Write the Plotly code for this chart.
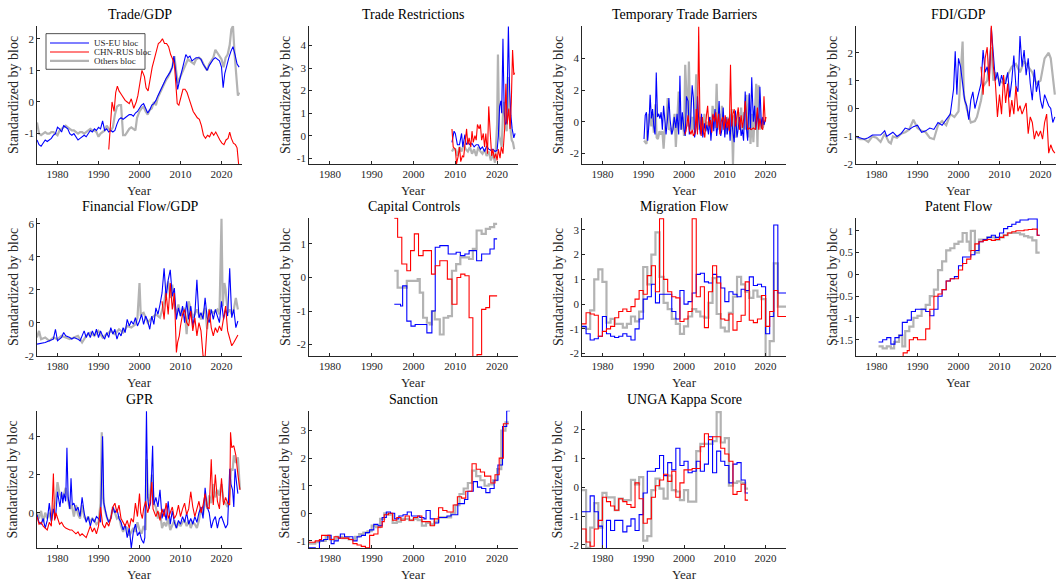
import numpy as np
import plotly.graph_objects as go

BLUE = "#0000FF"
RED = "#FF0000"
GRAY = "#B3B3B3"
INK = "#262626"
FONT = "Liberation Serif, Times New Roman, serif"

W, H = 1056, 586

# ---------------- Trade/GDP ----------------
trade_gdp_useu = [(1975,-1.2),(1975.5,-1.35),(1976,-1.4),(1976.5,-1.3),(1977,-1.2),(1977.5,-1.25),(1978,-1.2),(1978.5,-1.15),(1979,-1.05),(1979.5,-1.0),(1980,-0.8),(1980.5,-0.85),(1981,-0.95),(1981.5,-0.75),(1982,-0.8),(1982.5,-0.85),(1983,-1.0),(1983.5,-1.05),(1984,-1.0),(1984.5,-1.1),(1985,-1.2),(1985.5,-1.15),(1986,-1.1),(1986.5,-1.05),(1987,-1.1),(1987.5,-1.0),(1988,-0.9),(1988.5,-0.95),(1989,-0.85),(1989.5,-0.9),(1990,-0.8),(1990.5,-0.85),(1991,-0.6),(1991.5,-0.9),(1992,-0.85),(1992.5,-0.95),(1993,-0.9),(1993.5,-0.95),(1994,-0.9),(1994.5,-0.7),(1995,-0.55),(1995.5,-0.5),(1996,-0.55),(1996.5,-0.5),(1997,-0.45),(1997.5,-0.4),(1998,-0.4),(1998.5,-0.45),(1999,-0.35),(1999.5,-0.3),(2000,-0.2),(2000.5,-0.1),(2001,-0.05),(2001.5,-0.2),(2002,-0.35),(2002.5,-0.25),(2003,-0.1),(2003.5,-0.05),(2004,0.05),(2004.5,0.2),(2005,0.35),(2005.5,0.5),(2006,0.6),(2006.5,0.75),(2007,0.85),(2007.5,0.95),(2008,1.1),(2008.4,1.45),(2008.8,1.0),(2009.3,0.4),(2009.8,0.7),(2010.3,0.95),(2010.8,1.25),(2011.3,1.5),(2011.8,1.4),(2012.3,1.45),(2012.8,1.3),(2013.3,1.35),(2013.8,1.4),(2014.5,1.4),(2015,1.35),(2015.5,1.2),(2016,1.1),(2016.5,1.0),(2017,1.15),(2017.5,1.25),(2018,1.35),(2018.5,1.4),(2019,1.35),(2019.5,1.3),(2020,1.1),(2020.4,0.45),(2020.8,0.9),(2021.3,1.2),(2021.8,1.4),(2022.3,1.6),(2022.8,1.75),(2023.3,1.5),(2023.8,1.2),(2024.3,1.1)]
trade_gdp_chnrus = [(1992.5,-1.5),(1993,-0.5),(1993.3,0.0),(1993.8,-0.3),(1994.2,0.3),(1994.6,0.5),(1995,0.35),(1995.5,0.25),(1996,0.15),(1996.5,0.05),(1997,0.0),(1997.5,-0.05),(1998,0.1),(1998.6,-0.2),(1999.2,0.0),(1999.6,0.2),(2000.1,0.6),(2000.6,1.0),(2001.2,0.8),(2001.6,0.45),(2002.1,0.35),(2002.6,0.8),(2003.1,1.1),(2003.6,1.35),(2004.1,1.6),(2004.6,1.85),(2005.1,1.9),(2005.6,2.0),(2006.1,1.85),(2006.6,1.85),(2007.1,1.75),(2007.6,1.5),(2008.1,1.35),(2008.5,1.2),(2008.9,0.5),(2009.2,-0.05),(2009.6,-0.1),(2010.1,0.2),(2010.6,0.4),(2011.1,0.4),(2011.6,0.3),(2012.1,0.1),(2012.6,-0.1),(2013.1,-0.3),(2013.6,-0.4),(2014.1,-0.5),(2014.6,-0.55),(2015.1,-0.75),(2015.6,-1.05),(2016.1,-1.15),(2016.6,-1.05),(2017.1,-1.1),(2017.6,-0.95),(2018.1,-1.05),(2018.6,-0.95),(2019.1,-1.1),(2019.6,-1.2),(2020.1,-1.3),(2020.6,-1.35),(2021.1,-1.2),(2021.6,-1.15),(2022.0,-0.95),(2022.4,-1.15),(2022.9,-1.3),(2023.4,-1.35),(2023.8,-1.45),(2024.2,-2.0)]
trade_gdp_others = [(1975,-0.65),(1975.5,-1.0),(1976,-1.05),(1976.5,-1.0),(1977,-0.95),(1977.5,-1.0),(1978,-1.0),(1978.5,-0.95),(1979,-0.95),(1979.5,-1.0),(1980,-1.05),(1980.5,-0.9),(1981,-0.85),(1981.5,-0.8),(1982,-0.75),(1982.5,-0.8),(1983,-0.85),(1983.5,-0.9),(1984,-0.9),(1984.5,-0.95),(1985,-1.0),(1985.5,-0.95),(1986,-0.95),(1986.5,-1.0),(1987,-0.95),(1987.5,-0.9),(1988,-0.85),(1988.5,-0.9),(1989,-0.9),(1989.5,-0.95),(1990,-1.1),(1990.5,-1.0),(1991,-0.95),(1991.5,-0.9),(1992,-0.75),(1992.5,-0.85),(1993,-0.9),(1993.5,-0.8),(1994,-0.4),(1994.5,-0.15),(1995,-0.1),(1995.5,-0.1),(1996,-1.05),(1996.5,-1.05),(1997,-0.95),(1997.5,-0.85),(1998,-0.8),(1998.5,-0.85),(1999,-0.9),(1999.4,-0.5),(2000,-0.3),(2000.5,-0.2),(2001,-0.15),(2001.5,-0.3),(2002,-0.4),(2002.5,-0.25),(2003,-0.2),(2003.5,0.0),(2004,-0.1),(2004.5,0.15),(2005,0.3),(2005.5,0.45),(2006,0.55),(2006.5,0.7),(2007,0.8),(2007.5,0.95),(2008,1.1),(2008.5,1.45),(2008.9,1.0),(2009.3,0.6),(2009.8,0.75),(2010.3,0.9),(2010.8,1.1),(2011.3,1.2),(2011.8,1.35),(2012.3,1.3),(2012.8,1.25),(2013.3,1.2),(2013.8,1.35),(2014.5,1.4),(2015,1.35),(2015.5,1.2),(2016,1.1),(2016.5,1.0),(2017,1.2),(2017.5,1.3),(2018,1.4),(2018.5,1.65),(2019,1.55),(2019.5,1.45),(2020,1.35),(2020.5,1.1),(2021,1.4),(2021.5,1.5),(2022,1.8),(2022.4,2.3),(2022.8,2.4),(2023.2,1.5),(2023.6,0.7),(2024,0.2),(2024.3,0.3)]

# ---------------- Trade Restrictions ----------------
trade_restr_useu = [(2009.2,-0.3),(2009.7,0.2),(2010,0.1),(2010.5,-0.4),(2011,-0.4),(2011.5,0.1),(2011.8,-0.5),(2012.3,0.05),(2012.6,-0.4),(2013,-0.3),(2013.5,-0.4),(2014,-0.35),(2014.5,-0.5),(2015,-0.4),(2015.5,-0.4),(2016,-0.6),(2016.5,-0.5),(2017,-0.7),(2017.5,-0.45),(2018,-0.6),(2018.5,-0.65),(2019,-0.6),(2019.5,-0.7),(2020,-0.65),(2020.3,0.0),(2020.6,1.3),(2020.9,1.55),(2021.1,1.0),(2021.4,4.3),(2021.7,1.0),(2022.0,0.5),(2022.3,0.6),(2022.7,4.85),(2023.0,2.0),(2023.3,0.9),(2023.6,0.3),(2024.0,-0.1),(2024.3,0.1)]
trade_restr_chnrus = [(2009.2,0.3),(2009.5,-0.5),(2010,-0.6),(2010.3,-1.25),(2010.7,-0.9),(2011,-0.5),(2011.3,-1.15),(2011.7,-0.9),(2012,-0.95),(2012.3,-0.5),(2012.7,0.3),(2013,-0.4),(2013.3,-0.1),(2013.7,-0.5),(2014,0.2),(2014.3,-0.3),(2014.7,0.0),(2015,-0.2),(2015.3,0.5),(2015.7,0.3),(2016,0.5),(2016.3,-0.2),(2016.7,0.1),(2017,-0.5),(2017.3,0.1),(2017.7,-0.8),(2018,1.3),(2018.3,0.3),(2018.7,-0.9),(2019,-0.6),(2019.3,-1.0),(2019.7,-0.8),(2020,-1.1),(2020.3,-0.6),(2020.7,-1.0),(2021,-0.5),(2021.4,-0.8),(2021.8,0.3),(2022.1,2.3),(2022.4,0.5),(2022.8,1.2),(2023.1,0.3),(2023.4,1.5),(2023.7,3.8),(2024.0,2.7),(2024.2,2.8)]
trade_restr_others = [(2009.2,-0.7),(2009.5,-0.6),(2010,-0.6),(2010.5,-0.9),(2011,-0.5),(2011.5,-0.7),(2012,-0.4),(2012.5,-0.6),(2013,-0.7),(2013.5,-0.5),(2014,-0.8),(2014.5,-0.6),(2015,-0.9),(2015.5,-0.5),(2016,-0.7),(2016.5,-0.8),(2017,-0.6),(2017.5,-0.9),(2018,-0.7),(2018.5,-1.1),(2019,-0.8),(2019.5,-1.2),(2020.0,0.5),(2020.2,3.6),(2020.5,0.0),(2020.8,-0.3),(2021.1,-0.5),(2021.4,1.0),(2021.7,1.5),(2022.0,0.5),(2022.3,0.2),(2022.6,2.6),(2022.9,1.0),(2023.2,0.3),(2023.5,-0.2),(2023.8,-0.3),(2024.1,-0.6)]

# ---------------- Temporary Trade Barriers ----------------
ttb_useu = [(1990.2,-1.1),(1990.5,0.4),(1990.8,0.6),(1991.1,-1.2),(1991.4,-0.2),(1991.7,1.7),(1992,0.2),(1992.3,0.8),(1992.6,-0.3),(1992.9,-0.8),(1993.2,3.1),(1993.5,0.3),(1993.8,0.5),(1994.1,0.2),(1994.4,0.6),(1994.7,-0.5),(1995,1.0),(1995.3,0.2),(1995.6,-0.8),(1996,0.3),(1996.3,1.5),(1996.6,0.1),(1997,-0.8),(1997.3,-0.5),(1997.6,0.3),(1998,-0.4),(1998.3,0.5),(1998.7,-0.8),(1999,2.9),(1999.3,-0.5),(1999.6,0.6),(2000,-0.5),(2000.3,-0.9),(2000.6,1.6),(2001,1.3),(2001.3,-0.8),(2001.6,0.0),(2002,2.3),(2002.3,1.5),(2002.6,-1.0),(2003,-0.3),(2003.3,1.6),(2003.6,0.2),(2004,-0.8),(2004.3,0.5),(2004.6,-1.0),(2005,-0.1),(2005.3,-0.6),(2005.6,-0.2),(2006,-0.8),(2006.3,0.3),(2006.6,-1.2),(2007,0.4),(2007.3,-0.6),(2007.6,0.8),(2008,-0.9),(2008.3,-0.2),(2008.6,1.3),(2009,-0.9),(2009.3,-0.5),(2009.6,0.9),(2010,-1.0),(2010.3,0.3),(2010.6,-0.8),(2011,0.2),(2011.3,-1.2),(2011.6,0.5),(2012,-0.7),(2012.3,-1.3),(2012.6,0.7),(2013,-1.0),(2013.3,-0.4),(2013.6,0.3),(2014,-0.9),(2014.3,-0.5),(2014.6,-1.2),(2015,1.9),(2015.3,-0.4),(2015.6,-1.2),(2016,1.8),(2016.3,-0.5),(2016.6,2.8),(2017,0.0),(2017.3,1.0),(2017.6,-0.5),(2018,0.6),(2018.3,-0.3),(2018.6,2.2),(2019,-0.4),(2019.3,0.3),(2019.6,-0.2),(2020,0.2)]
ttb_chnrus = [(2000.2,-0.8),(2000.5,-0.6),(2001,0.4),(2001.3,-0.5),(2001.7,-0.8),(2002,-0.5),(2002.3,-0.9),(2002.7,-0.7),(2003,0.8),(2003.3,-0.8),(2003.6,6.0),(2003.9,0.2),(2004.2,-0.9),(2004.5,0.3),(2004.8,-0.6),(2005.1,-1.0),(2005.5,0.4),(2005.8,1.0),(2006.1,-0.3),(2006.5,0.1),(2006.8,-0.7),(2007.1,0.5),(2007.5,0.0),(2007.8,0.6),(2008.1,-0.4),(2008.5,0.5),(2008.8,-0.8),(2009.1,0.0),(2009.5,0.3),(2009.8,-0.5),(2010.1,0.4),(2010.5,-0.4),(2010.8,0.2),(2011.1,-0.6),(2011.4,3.6),(2011.7,-0.3),(2012.0,0.5),(2012.3,0.8),(2012.6,-0.3),(2013.0,0.5),(2013.3,0.9),(2013.6,-0.5),(2014.0,0.4),(2014.3,-0.4),(2014.7,0.3),(2015.0,1.3),(2015.3,0.5),(2015.6,-0.5),(2016.0,-0.4),(2016.5,-0.5),(2017.0,-0.4),(2017.5,-0.5),(2018.0,0.9),(2018.3,-0.5),(2018.6,0.2),(2019.0,-0.4),(2019.3,-0.5),(2019.6,1.6),(2019.9,0.0),(2020.1,0.3)]
ttb_others = [(1990.2,-1.2),(1990.5,-1.3),(1990.8,-1.4),(1991.1,-0.5),(1991.4,0.5),(1991.7,0.2),(1992,-0.3),(1992.3,0.5),(1992.6,-0.7),(1993,1.1),(1993.3,-1.0),(1993.6,-1.1),(1994,-0.6),(1994.3,-0.8),(1994.7,-0.6),(1995,-1.7),(1995.3,-0.5),(1995.7,0.0),(1996,1.5),(1996.3,-0.5),(1996.7,-0.4),(1997,-0.8),(1997.3,-0.2),(1997.7,0.5),(1998,-1.6),(1998.3,-0.2),(1998.7,1.9),(1999,0.2),(1999.3,-0.5),(1999.7,0.3),(2000,-0.9),(2000.3,3.6),(2000.6,0.8),(2000.9,-0.3),(2001.2,3.8),(2001.5,0.5),(2001.8,-0.5),(2002.1,0.3),(2002.4,-0.5),(2002.7,0.8),(2003.0,3.0),(2003.3,0.2),(2003.6,-0.5),(2004,0.3),(2004.3,-0.3),(2004.7,-0.8),(2005,0.5),(2005.3,-0.6),(2005.7,0.0),(2006,-0.5),(2006.3,0.3),(2006.7,-0.6),(2007,1.0),(2007.3,0.5),(2007.7,-0.4),(2008,2.4),(2008.3,-0.5),(2008.7,0.5),(2009,-0.6),(2009.3,1.0),(2009.7,-0.5),(2010,0.2),(2010.3,-0.8),(2010.7,0.3),(2011,-0.5),(2011.3,-0.2),(2011.7,0.8),(2012.0,-2.7),(2012.3,0.4),(2012.6,-1.0),(2013,0.0),(2013.3,0.6),(2013.7,-0.5),(2014,0.9),(2014.3,-0.6),(2014.7,0.6),(2015,-0.5),(2015.3,1.7),(2015.7,-1.0),(2016,1.7),(2016.3,-1.4),(2016.7,0.5),(2017,-1.3),(2017.3,0.2),(2017.7,2.4),(2018,-1.6),(2018.3,2.3),(2018.7,-0.5),(2019,0.2),(2019.3,-0.4),(2019.7,0.0),(2020,0.1)]

# ---------------- FDI/GDP ----------------
fdi_useu = [(1975,-1.0),(1976,-1.05),(1977,-1.1),(1978,-1.05),(1979,-0.95),(1980,-0.95),(1981,-0.95),(1982,-0.8),(1982.5,-1.0),(1983,-0.95),(1984,-0.85),(1985,-1.0),(1986,-0.9),(1987,-0.7),(1988,-0.75),(1989,-0.65),(1990,-0.6),(1991,-0.85),(1992,-0.8),(1993,-0.7),(1994,-0.75),(1995,-0.5),(1996,-0.6),(1997,-0.4),(1998,-0.2),(1998.8,0.7),(1999.2,2.05),(1999.6,0.5),(2000,1.8),(2000.5,1.5),(2001,0.8),(2001.5,0.3),(2002,0.1),(2002.5,-0.4),(2003,0.3),(2003.5,0.6),(2004,0.0),(2004.5,0.3),(2005,0.6),(2005.5,0.9),(2006,2.1),(2006.5,1.3),(2007,1.5),(2007.5,1.0),(2008,2.9),(2008.5,1.8),(2009,1.0),(2009.5,1.3),(2010,0.8),(2010.5,1.2),(2011,0.9),(2011.5,0.9),(2012,1.3),(2012.5,0.4),(2013,1.0),(2013.5,1.9),(2014,0.8),(2014.5,0.6),(2015,2.6),(2015.5,1.5),(2016,2.1),(2016.5,1.2),(2017,1.8),(2017.5,0.9),(2018,0.3),(2018.5,1.4),(2019,0.6),(2019.5,1.0),(2020,0.3),(2020.5,0.0),(2021,0.5),(2021.5,0.3),(2022,0.1),(2022.5,0.0),(2023,-0.5),(2023.5,-0.3)]
fdi_chnrus = [(2005.5,1.5),(2006,0.5),(2006.5,1.8),(2007,2.2),(2007.5,0.8),(2008,3.0),(2008.5,1.5),(2009,0.9),(2009.5,-0.3),(2010,0.5),(2010.5,-0.2),(2011,1.2),(2011.5,0.2),(2012,0.9),(2012.5,-0.3),(2013,0.3),(2013.5,-0.2),(2014,0.8),(2014.5,-0.1),(2015,0.1),(2015.5,-0.2),(2016,0.0),(2016.5,0.2),(2017,-0.9),(2017.5,-0.3),(2018,-0.5),(2018.5,-1.1),(2019,-0.8),(2019.5,-1.0),(2020,-0.8),(2020.5,-1.1),(2021,-0.5),(2021.5,-0.2),(2022,-1.6),(2022.5,-1.3),(2023,-1.5),(2023.5,-1.6)]
fdi_others = [(1975,-1.0),(1976,-1.1),(1977,-1.1),(1978,-1.2),(1979,-1.0),(1980,-1.05),(1981,-1.2),(1982,-0.9),(1983,-1.2),(1983.5,-1.25),(1984,-1.0),(1985,-1.05),(1986,-0.9),(1987,-0.85),(1988,-0.75),(1989,-0.4),(1990,-0.7),(1991,-0.8),(1992,-0.85),(1993,-1.05),(1994,-1.1),(1994.5,-0.8),(1995,-0.6),(1996,-0.45),(1997,-0.6),(1998,-0.2),(1999,-0.3),(2000,-0.1),(2000.5,1.0),(2001,2.4),(2001.3,0.5),(2002,0.0),(2003,-0.5),(2004,-0.45),(2004.5,-0.3),(2005,0.0),(2005.5,0.3),(2006,0.8),(2007,1.0),(2008,2.2),(2008.5,1.0),(2009,1.3),(2010,1.0),(2011,0.9),(2012,1.2),(2013,1.5),(2014,1.6),(2015,1.3),(2016,1.7),(2017,1.5),(2018,1.3),(2019,0.9),(2020,1.0),(2021,1.8),(2022,2.0),(2022.5,1.8),(2023,1.2),(2023.5,0.5)]

# ---------------- Financial Flow/GDP ----------------
finflow_useu = [(1975,-1.3),(1976,-1.25),(1977,-1.2),(1978,-1.1),(1979,-1.0),(1979.5,-0.4),(1980,-1.1),(1981,-0.9),(1981.5,-0.6),(1982,-0.8),(1983,-0.9),(1983.5,-1.0),(1984,-0.9),(1985,-1.0),(1985.5,-1.1),(1986,-0.8),(1986.5,-0.5),(1987,-0.9),(1987.5,-0.6),(1988,-0.9),(1988.5,-0.5),(1989,-0.8),(1989.5,-0.4),(1990,-0.9),(1990.5,-0.5),(1991,-0.8),(1991.5,-1.0),(1992,-0.6),(1992.5,-0.9),(1993,-0.3),(1993.5,-0.7),(1994,-0.4),(1994.5,-1.0),(1995,-0.6),(1995.5,-0.8),(1996,-0.3),(1996.5,-0.6),(1997,0.2),(1997.5,-0.2),(1998,0.1),(1998.5,-0.1),(1999,0.3),(1999.5,-0.2),(2000,0.1),(2000.5,0.5),(2001,-0.1),(2001.5,0.4),(2002,0.1),(2002.5,-0.4),(2003,0.4),(2003.5,-0.1),(2004,0.9),(2004.5,0.5),(2005,1.1),(2005.5,1.8),(2006,3.3),(2006.5,1.5),(2007,2.6),(2007.5,3.2),(2008,1.6),(2008.5,2.1),(2009,0.2),(2009.5,0.9),(2010,0.4),(2010.5,1.0),(2011,0.0),(2011.5,1.3),(2012,0.2),(2012.5,1.0),(2013,-0.2),(2013.5,0.5),(2014,2.6),(2014.5,0.3),(2015,0.6),(2015.5,0.2),(2016,1.5),(2016.5,0.3),(2017,0.0),(2017.5,0.8),(2018,0.2),(2018.5,0.8),(2019,0.4),(2019.5,0.0),(2020,1.3),(2020.5,0.2),(2021,0.8),(2021.5,0.4),(2022,3.3),(2022.5,0.3),(2023,0.8),(2023.5,-0.3),(2024,0.1)]
finflow_chnrus = [(2005.5,1.3),(2006,0.2),(2006.5,1.8),(2007,0.5),(2007.5,2.4),(2008,0.8),(2008.5,1.8),(2009,-1.8),(2009.3,-1.2),(2009.7,-0.8),(2010,-0.2),(2010.5,0.5),(2011,0.8),(2011.5,0.0),(2012,-0.2),(2012.5,0.7),(2013,-0.5),(2013.5,0.3),(2014,-0.8),(2014.5,0.0),(2015,-0.5),(2015.5,-2.0),(2016,-2.1),(2016.5,-0.2),(2017,0.8),(2017.5,-0.3),(2018,-0.8),(2018.5,-0.3),(2019,-0.6),(2019.5,-0.2),(2020,-0.5),(2020.5,0.3),(2021,1.0),(2021.5,-0.5),(2022,-1.0),(2022.5,-1.4),(2023,-1.2),(2023.5,-1.0),(2024,-0.75)]
finflow_others = [(1975,-0.9),(1975.5,-0.5),(1976,-1.0),(1977,-0.9),(1978,-1.1),(1979,-0.9),(1980,-1.0),(1981,-0.8),(1982,-0.9),(1983,-1.0),(1984,-0.9),(1985,-0.8),(1986,-1.2),(1987,-0.8),(1988,-0.6),(1989,-0.8),(1990,-0.5),(1991,-0.9),(1992,-0.7),(1993,-0.5),(1994,-0.7),(1995,-0.4),(1996,-0.6),(1997,-0.2),(1998,-0.3),(1999,-0.1),(1999.5,0.3),(2000,2.4),(2000.3,0.5),(2001,0.6),(2002,0.0),(2003,0.3),(2004,0.5),(2005,0.3),(2006,1.2),(2006.5,2.0),(2007,2.5),(2007.5,1.5),(2008,2.3),(2008.5,1.0),(2009,0.5),(2009.5,1.1),(2010,0.4),(2011,0.9),(2011.5,-0.7),(2012,1.3),(2013,0.3),(2014,0.8),(2015,0.2),(2016,0.9),(2016.5,-0.4),(2017,0.8),(2018,0.6),(2019,0.8),(2019.5,0.5),(2020,6.3),(2020.3,1.0),(2020.7,2.4),(2021,2.0),(2021.5,0.6),(2022,0.8),(2022.5,0.5),(2023,0.8),(2023.5,1.5),(2024,0.8)]

# ---------------- Capital Controls (step series) ----------------
capctrl_useu = [(1995.4,-0.8),(1996.9,-0.85),(1997.4,-0.25),(1998.4,-1.3),(1999.4,-1.45),(2000.4,-1.4),(2001.4,-1.4),(2003.2,-1.65),(2004.4,-1.0),(2005.2,0.9),(2006.3,0.95),(2008.3,0.7),(2009.2,0.7),(2010.2,0.75),(2011.2,0.65),(2012.3,0.7),(2013.3,0.8),(2015.1,0.5),(2016.3,0.7),(2018.3,0.85),(2019.3,1.15),(2020.0,1.15)]
capctrl_chnrus = [(1995.4,1.77),(1996.2,1.2),(1997.2,0.4),(1998.4,0.2),(1999.3,0.8),(2000.2,1.3),(2001.2,0.65),(2002.3,0.8),(2004.3,0.1),(2005.2,0.35),(2006.3,0.5),(2008.1,-0.05),(2009.2,-0.8),(2010.4,0.0),(2011.3,0.1),(2012.3,0.05),(2013.3,-1.2),(2014.2,-2.4),(2015.2,-2.3),(2016.3,-0.95),(2017.3,-0.9),(2018.2,-0.55),(2019.3,-0.55),(2020.0,-0.55)]
capctrl_others = [(1995.4,0.2),(1996.2,-0.3),(1997.2,-0.3),(1998.4,-0.1),(1999.4,-0.1),(2000.2,-0.1),(2001.0,-0.05),(2001.5,-0.45),(2002.3,-1.2),(2003.2,-1.35),(2003.9,-1.4),(2004.4,-1.0),(2005.1,-1.25),(2006.3,-1.7),(2007.2,-1.2),(2008.3,-1.15),(2009.2,0.2),(2010.2,0.4),(2011.2,0.6),(2012.3,0.6),(2013.3,0.55),(2014.2,0.85),(2015.1,1.4),(2016.3,1.3),(2017.3,1.45),(2018.3,1.5),(2019.3,1.6),(2020.0,1.6)]

# ---------------- Migration Flow (annual steps from 1975) ----------------
migration_start = 1975
migration_useu = [-0.9,-1.2,-1.45,-1.4,-1.3,-0.5,-1.2,-1.3,-1.35,-1.3,-1.2,-1.3,-1.45,-1.0,-0.6,0.2,0.3,0.8,0.05,0.4,0.4,0.4,-0.3,-0.6,0.55,0.0,0.1,0.45,1.2,1.25,0.9,0.85,1.2,1.1,0.65,0.1,0.5,0.4,0.3,0.6,0.55,1.1,0.75,0.8,0.7,-1.2,-0.5,3.2,0.45,0.45]
migration_chnrus = [-0.8,-0.35,-0.4,-0.45,-1.3,-1.1,-1.0,-0.9,-0.55,-0.3,-0.2,-0.3,-0.1,0.2,0.55,0.4,1.15,1.55,0.5,3.45,1.0,0.5,0.3,0.25,-0.7,-0.6,-0.3,3.45,0.3,0.7,-0.95,0.5,1.55,0.85,-0.6,-0.65,-0.4,-1.05,-0.7,-0.45,0.9,-0.65,-0.75,-0.6,0.35,-0.9,-0.3,0.55,-0.5,-0.5]
migration_others = [-0.95,-1.0,-0.25,1.0,1.4,0.9,-0.75,-0.6,-0.8,-0.8,-0.95,-0.8,-0.5,-0.7,-0.3,1.5,0.8,2.0,2.9,1.1,0.05,-0.2,-0.6,-0.8,-1.2,-0.9,-0.5,-0.2,-0.3,-0.5,-0.55,0.05,1.05,-0.4,-0.95,-1.1,-0.35,0.3,1.1,0.8,0.5,0.25,0.55,0.3,0.2,-2.2,-1.5,1.65,-0.1,-0.1]

# ---------------- Patent Flow (step series) ----------------
patent_useu = [(1980.5,-1.55),(1981.5,-1.5),(1982.5,-1.45),(1983.5,-1.6),(1984.5,-1.45),(1985.5,-1.4),(1986.3,-1.1),(1987.5,-1.05),(1988.5,-0.85),(1989.5,-0.8),(1991,-0.8),(1992,-0.85),(1993,-0.95),(1994,-0.8),(1995,-0.5),(1996,-0.35),(1997,-0.15),(1998,-0.1),(1999,-0.05),(2000,0.2),(2001,0.4),(2002,0.4),(2003,0.45),(2004,0.55),(2005,0.75),(2006,0.8),(2007,0.85),(2008,0.9),(2009,0.85),(2010,0.95),(2011,1.05),(2012,1.1),(2013,1.15),(2014,1.2),(2015,1.25),(2016,1.25),(2017,1.27),(2018,1.27),(2019.2,0.9),(2019.8,0.9)]
patent_chnrus = [(1985.8,-1.9),(1986.5,-1.8),(1987.5,-1.75),(1988,-1.5),(1989,-1.45),(1990,-1.5),(1991,-1.5),(1992,-1.25),(1993,-0.8),(1994,-0.5),(1995,-0.45),(1996,-0.35),(1997,-0.15),(1998,-0.1),(1999,-0.1),(2000,0.1),(2001,0.25),(2002,0.35),(2003,0.55),(2004,0.7),(2005,0.75),(2006,0.78),(2007,0.8),(2008,0.78),(2009,0.8),(2010,0.85),(2011,0.9),(2012,0.95),(2013,0.98),(2014,1.0),(2015,1.0),(2016,1.02),(2017,1.03),(2018,1.04),(2019.2,0.9),(2019.8,0.9)]
patent_others = [(1980.5,-1.65),(1981.5,-1.7),(1982.5,-1.65),(1983.5,-1.7),(1984.3,-1.55),(1985.5,-1.4),(1986.3,-1.65),(1987,-1.3),(1988,-1.2),(1989,-1.0),(1990,-0.95),(1991,-0.8),(1992,-0.7),(1993,-0.5),(1994,-0.35),(1995,0.1),(1996,0.3),(1997,0.55),(1998,0.6),(1999,0.7),(2000,0.75),(2001,0.95),(2002,0.75),(2002.7,0.55),(2003,1.0),(2004,0.5),(2005,0.8),(2006,0.8),(2007,0.85),(2008,0.85),(2009,0.8),(2010,0.85),(2011,0.9),(2012,0.95),(2013,0.95),(2014,0.95),(2015,0.92),(2016,0.88),(2017,0.85),(2018,0.78),(2019,0.5),(2019.8,0.5)]

# ---------------- GPR ----------------
gpr_useu = [(1975,-0.1),(1975.5,-0.5),(1976,-0.6),(1976.5,-0.3),(1977,-0.8),(1977.5,-0.4),(1978,0.5),(1978.5,-0.5),(1979,0.2),(1979.5,-0.3),(1980,1.1),(1980.3,0.6),(1980.6,0.3),(1981,1.1),(1981.3,0.5),(1981.6,1.0),(1982,0.6),(1982.3,3.4),(1982.6,0.8),(1983,0.2),(1983.3,1.8),(1983.6,0.4),(1984,0.5),(1984.5,0.1),(1985,0.3),(1985.5,-0.2),(1986,0.8),(1986.5,0.0),(1987,-0.5),(1987.5,-0.2),(1988,-0.7),(1988.5,-0.3),(1989,-0.5),(1989.5,-0.2),(1990,-0.3),(1990.5,-0.5),(1990.8,1.9),(1991.0,4.0),(1991.3,0.5),(1991.6,0.2),(1992,-0.2),(1992.5,-0.5),(1993,-0.3),(1993.5,0.3),(1994,0.0),(1994.5,0.2),(1995,-0.3),(1995.5,-0.5),(1996,-0.9),(1996.5,-0.6),(1997,-1.3),(1997.5,-0.8),(1998,-1.85),(1998.5,-1.0),(1999,-0.6),(1999.5,-1.2),(2000,-1.0),(2000.5,-1.4),(2001,-1.6),(2001.3,-1.3),(2001.7,5.3),(2002,0.8),(2002.3,0.2),(2002.7,0.5),(2003.2,3.5),(2003.5,0.4),(2004,0.8),(2004.5,0.3),(2005,1.2),(2005.5,-0.3),(2006,0.2),(2006.5,-0.4),(2007,0.6),(2007.5,-0.6),(2008,0.1),(2008.5,-0.5),(2009,-0.8),(2009.5,-0.4),(2010,-0.6),(2010.5,-0.2),(2011,-0.5),(2011.5,0.0),(2012,-0.6),(2012.5,-0.3),(2013,-0.6),(2013.5,-0.2),(2014,-0.5),(2014.5,0.0),(2015,0.3),(2015.5,-0.3),(2016,1.3),(2016.5,0.3),(2017,0.0),(2017.5,-0.8),(2018,-0.4),(2018.5,-0.2),(2019,-0.8),(2019.5,-0.3),(2020,-0.2),(2020.5,-0.5),(2021,-0.8),(2021.5,-0.6),(2022,2.3),(2022.3,1.5),(2022.7,1.2),(2023,0.3),(2023.3,2.3),(2023.7,1.5),(2024,1.0)]
gpr_chnrus = [(1975,-0.2),(1975.5,-0.6),(1976,-0.5),(1976.5,-0.7),(1977,-0.8),(1977.5,-0.9),(1978,-0.5),(1978.5,-0.7),(1979,2.05),(1979.3,-0.4),(1979.6,0.0),(1980,-0.3),(1980.5,-0.6),(1981,-0.5),(1981.5,-0.7),(1982,-0.8),(1982.5,-0.85),(1983,-0.9),(1983.5,-0.9),(1984,-1.0),(1984.5,-1.1),(1985,-1.0),(1985.5,-1.2),(1986,-1.1),(1986.5,-1.2),(1987,-1.3),(1987.5,-1.0),(1988,-0.7),(1988.5,-1.0),(1989,-0.8),(1989.5,-1.1),(1990,-0.7),(1990.5,0.3),(1991,-0.6),(1991.5,-0.8),(1992,-0.5),(1992.5,-0.7),(1993,-0.3),(1993.5,0.3),(1994,0.5),(1994.5,0.0),(1995,0.4),(1995.5,-0.3),(1996,-0.5),(1996.5,-0.7),(1997,-0.4),(1997.5,-0.8),(1998,-0.3),(1998.5,-0.5),(1999,0.5),(1999.5,-0.2),(2000,1.0),(2000.3,0.0),(2000.7,-0.3),(2001,0.2),(2001.5,0.6),(2002,0.0),(2002.5,0.4),(2003,1.6),(2003.3,0.2),(2003.7,0.0),(2004,-0.2),(2004.5,0.1),(2005,-0.4),(2005.5,0.2),(2006,-0.2),(2006.5,0.5),(2007,-0.3),(2007.5,0.0),(2008,0.3),(2008.5,-0.3),(2009,-0.1),(2009.5,0.4),(2010,-0.2),(2010.5,0.2),(2011,0.5),(2011.5,-0.1),(2012,0.2),(2012.5,1.1),(2013,0.3),(2013.5,-0.2),(2014,0.2),(2014.5,0.6),(2015,0.0),(2015.5,0.4),(2016,1.0),(2016.5,0.3),(2017,0.2),(2017.5,2.8),(2017.8,1.0),(2018,0.4),(2018.5,2.0),(2019,0.6),(2019.5,0.2),(2020,1.8),(2020.5,0.4),(2021,0.8),(2021.5,0.5),(2022,0.4),(2022.2,4.2),(2022.5,3.4),(2023,3.5),(2023.5,3.0),(2024,2.0),(2024.5,1.2)]
gpr_others = [(1975,0.0),(1975.5,-0.3),(1976,0.1),(1976.5,-0.5),(1977,0.0),(1977.5,-0.3),(1978,0.0),(1978.5,-0.4),(1979,0.2),(1979.5,0.6),(1980,1.6),(1980.5,1.0),(1981,0.8),(1981.5,0.9),(1982,1.3),(1982.5,0.8),(1983,0.2),(1983.5,0.4),(1984,-0.2),(1984.5,0.4),(1985,-0.1),(1985.5,-0.3),(1986,0.4),(1986.5,-0.2),(1987,-0.4),(1987.5,-0.2),(1988,-0.5),(1988.5,-0.3),(1989,-0.4),(1989.5,-0.6),(1990,-0.5),(1990.5,0.5),(1990.8,4.2),(1991.1,0.8),(1991.5,0.2),(1992,-0.2),(1992.5,-0.5),(1993,-0.3),(1993.5,0.3),(1994,0.0),(1994.5,-0.3),(1995,-0.2),(1995.5,-0.7),(1996,-1.0),(1996.5,-0.7),(1997,-0.8),(1997.5,-1.2),(1998,-1.0),(1998.5,-0.8),(1999,-1.0),(1999.5,-0.5),(2000,-0.9),(2000.5,-1.1),(2001,-0.7),(2001.5,-0.9),(2001.8,2.8),(2002,1.0),(2002.5,0.6),(2003,2.0),(2003.5,0.5),(2004,0.3),(2004.5,-0.3),(2005,0.0),(2005.5,-0.8),(2006,-0.5),(2006.5,-0.7),(2007,-0.3),(2007.5,-0.9),(2008,-0.6),(2008.5,-0.4),(2009,-0.8),(2009.5,-0.5),(2010,-0.7),(2010.5,-0.5),(2011,-0.4),(2011.5,-0.7),(2012,-0.4),(2012.5,-0.8),(2013,-0.5),(2013.5,-0.6),(2014,-0.8),(2014.5,-0.4),(2015,0.3),(2015.5,-0.1),(2016,0.8),(2016.5,0.2),(2017,0.9),(2017.5,0.5),(2018,1.5),(2018.5,0.8),(2019,1.2),(2019.5,0.9),(2020,1.5),(2020.5,0.6),(2021,0.5),(2021.5,0.3),(2022,1.0),(2022.3,2.3),(2022.7,2.2),(2023,3.0),(2023.5,2.6),(2024,2.9),(2024.5,1.2)]

# ---------------- Sanction (step series) ----------------
sanction_useu = [(1975,-1.25),(1976.5,-1.3),(1977.5,-1.0),(1978.5,-0.95),(1979.5,-0.8),(1980.3,-1.1),(1981,-1.0),(1982,-0.9),(1982.5,-0.75),(1983.5,-0.85),(1985.5,-1.0),(1986.5,-0.85),(1987.5,-0.8),(1988.5,-0.7),(1989.5,-0.6),(1990.5,-0.4),(1991.5,-0.45),(1992.5,-0.15),(1993.5,0.05),(1994.5,0.0),(1995.5,-0.2),(1996.5,-0.1),(1997.5,-0.05),(1998.5,0.05),(1999.5,-0.1),(2000.5,-0.1),(2001.5,-0.15),(2002.5,-0.2),(2003,0.1),(2004,-0.2),(2005,-0.35),(2006,-0.15),(2007,-0.15),(2008,-0.1),(2009,-0.05),(2010.6,0.35),(2012.2,0.5),(2013,0.8),(2014.3,1.15),(2015.3,0.95),(2016.3,0.9),(2017.3,0.75),(2018.3,0.9),(2019.3,1.2),(2020.2,1.75),(2021.3,3.15),(2022.3,3.72),(2023.1,3.72)]
sanction_chnrus = [(1975,-1.05),(1976.5,-1.0),(1977.5,-0.95),(1978,-0.8),(1980,-0.95),(1981,-0.85),(1982,-0.9),(1984.5,-0.95),(1985.5,-1.1),(1986.5,-1.15),(1987.5,-1.2),(1988.5,-1.25),(1989.5,-0.8),(1990.5,-0.75),(1991.5,-0.5),(1992.5,-0.3),(1993,-0.05),(1994,0.0),(1995,-0.25),(1996,-0.15),(1997,-0.25),(1998,-0.1),(1999,-0.25),(2000,-0.15),(2001,-0.1),(2002,-0.3),(2003,-0.3),(2004,-0.45),(2005,-0.2),(2006,0.2),(2007,0.1),(2008,0.05),(2009.5,0.3),(2010.5,0.6),(2011.5,0.55),(2012.5,0.8),(2014,1.8),(2015,1.6),(2016,1.5),(2017,1.35),(2018,1.35),(2018.5,1.1),(2019.5,1.4),(2020.5,2.0),(2021.5,3.25),(2022.8,3.25)]
sanction_others = [(1975,-1.1),(1976.5,-1.05),(1977.5,-1.0),(1979,-0.85),(1980,-0.95),(1981.5,-0.85),(1983,-0.9),(1984.5,-0.95),(1986,-0.85),(1987,-0.75),(1988,-0.7),(1989,-0.65),(1990,-0.45),(1991,-0.5),(1992,-0.2),(1993,0.0),(1994,-0.05),(1995,-0.35),(1996,-0.3),(1997,-0.2),(1998,-0.2),(1999,-0.25),(2000,-0.2),(2001,-0.25),(2002,-0.45),(2003,-0.35),(2004,-0.4),(2005,-0.3),(2006,-0.15),(2007,-0.15),(2008,-0.15),(2009,0.0),(2010,0.3),(2011,0.7),(2012,0.9),(2013,1.1),(2014,1.55),(2015,1.35),(2016,1.2),(2017,1.0),(2018,1.05),(2019,1.2),(2020,1.6),(2021,3.0),(2022,3.3),(2022.8,3.3)]

# ---------------- UNGA Kappa Score (annual steps from 1975) ----------------
unga_start = 1975
unga_useu = [-0.85,-0.85,-0.3,-0.85,-1.35,-2.2,-1.15,-1.5,-1.15,-1.15,-1.55,-1.35,-1.1,-1.5,-0.95,-0.2,0.55,0.55,0.65,1.1,0.4,0.85,0.6,1.35,0.75,0.9,0.5,0.55,0.9,0.55,0.8,1.75,0.5,1.25,0.9,0.75,0.15,0.8,0.85,0.25,-0.2]
unga_chnrus = [-1.45,-1.9,-2.05,-1.45,-1.15,-0.35,-0.5,-0.65,-0.8,-0.4,-0.5,-0.6,-0.7,0.15,-0.4,-1.25,-1.1,-0.35,0.05,0.25,0.45,0.2,0.55,-0.35,0.15,0.6,0.6,0.65,0.65,1.4,1.85,1.65,1.75,1.75,1.35,1.15,0.9,-0.25,-0.15,0.1,-0.45]
unga_others = [-0.1,-2.1,-1.4,-0.55,-1.4,-0.2,-0.35,-0.35,-0.8,-0.4,-0.45,-0.45,0.25,0.1,0.35,-1.85,-1.7,-0.1,0.3,-0.05,-0.4,0.4,-0.1,-0.15,-0.45,-0.1,-0.5,-0.5,1.25,1.5,1.5,1.5,1.6,2.6,1.55,1.7,0.05,0.15,0.2,0.15,-0.05]
unga_end = 2015.7

year_ticks = [1980, 1990, 2000, 2010, 2020]
bloc_names = ["US-EU bloc", "CHN-RUS bloc", "Others bloc"]


def pairs_xy(pairs):
    arr = np.asarray(pairs, dtype=float)
    return arr[:, 0], arr[:, 1]


def annual_xy(start, values, end=None):
    x = list(start + np.arange(len(values), dtype=float))
    y = list(values)
    x.append(end if end is not None else x[-1] + 1.0)
    y.append(values[-1])
    return np.array(x), np.array(y)


# title, y range, y ticks, (US-EU, CHN-RUS, Others), line shape
panels = [
    ("Trade/GDP", (-1.97, 2.41), [-1, 0, 1, 2],
     [pairs_xy(trade_gdp_useu), pairs_xy(trade_gdp_chnrus), pairs_xy(trade_gdp_others)], "linear"),
    ("Trade Restrictions", (-1.27, 4.88), [-1, 0, 1, 2, 3, 4],
     [pairs_xy(trade_restr_useu), pairs_xy(trade_restr_chnrus), pairs_xy(trade_restr_others)], "linear"),
    ("Temporary Trade Barriers", (-2.69, 6.06), [-2, 0, 2, 4],
     [pairs_xy(ttb_useu), pairs_xy(ttb_chnrus), pairs_xy(ttb_others)], "linear"),
    ("FDI/GDP", (-2.0, 2.97), [-2, -1, 0, 1, 2],
     [pairs_xy(fdi_useu), pairs_xy(fdi_chnrus), pairs_xy(fdi_others)], "linear"),
    ("Financial Flow/GDP", (-2.04, 6.36), [-2, 0, 2, 4, 6],
     [pairs_xy(finflow_useu), pairs_xy(finflow_chnrus), pairs_xy(finflow_others)], "linear"),
    ("Capital Controls", (-2.35, 1.78), [-2, -1, 0, 1],
     [pairs_xy(capctrl_useu), pairs_xy(capctrl_chnrus), pairs_xy(capctrl_others)], "hv"),
    ("Migration Flow", (-2.11, 3.49), [-2, -1, 0, 1, 2, 3],
     [annual_xy(migration_start, migration_useu), annual_xy(migration_start, migration_chnrus),
      annual_xy(migration_start, migration_others)], "hv"),
    ("Patent Flow", (-1.88, 1.30), [-1.5, -1, -0.5, 0, 0.5, 1],
     [pairs_xy(patent_useu), pairs_xy(patent_chnrus), pairs_xy(patent_others)], "hv"),
    ("GPR", (-1.86, 5.33), [0, 2, 4],
     [pairs_xy(gpr_useu), pairs_xy(gpr_chnrus), pairs_xy(gpr_others)], "linear"),
    ("Sanction", (-1.27, 3.72), [-1, 0, 1, 2, 3],
     [pairs_xy(sanction_useu), pairs_xy(sanction_chnrus), pairs_xy(sanction_others)], "hv"),
    ("UNGA Kappa Score", (-2.12, 2.65), [-2, -1, 0, 1, 2],
     [annual_xy(unga_start, unga_useu, unga_end), annual_xy(unga_start, unga_chnrus, unga_end),
      annual_xy(unga_start, unga_others, unga_end)], "hv"),
]

# Axes boxes in pixels: (left, right) per column, (top, bottom) per row
col_px = [(37, 242), (309, 518), (582, 786), (856, 1061)]
row_px = [(26, 166), (220, 360), (415, 554)]

bloc_colors = [BLUE, RED, GRAY]
bloc_widths = [1.1, 1.1, 2.2]
draw_order = [2, 0, 1]  # grey drawn underneath

fig = go.Figure()
layout = dict(
    width=W, height=H, margin=dict(l=0, r=0, t=0, b=0),
    paper_bgcolor="white", plot_bgcolor="white",
    font=dict(family=FONT, color=INK, size=11),
    showlegend=False,
)
annotations = []
shapes = []


def fmt(v):
    return "%g" % v


for i, (title, yr, yt, series, shape) in enumerate(panels):
    r, c = divmod(i, 4)
    left, right_full = col_px[c]
    top, bottom = row_px[r]
    right = min(right_full, W)
    x1 = 1975.0 + (right - left) / (right_full - left) * 50.0
    sfx = "" if i == 0 else str(i + 1)
    axis_common = dict(
        showline=True, linecolor=INK, linewidth=0.8, mirror=False,
        ticks="inside", ticklen=3, tickcolor=INK, tickwidth=0.8,
        showgrid=False, zeroline=False, tickfont=dict(size=11, color=INK, family=FONT),
    )
    layout["xaxis" + sfx] = dict(
        domain=[left / W, right / W], anchor="y" + sfx, range=[1975.0, x1],
        tickvals=year_ticks, ticktext=[str(t) for t in year_ticks], **axis_common,
    )
    layout["yaxis" + sfx] = dict(
        domain=[1 - bottom / H, 1 - top / H], anchor="x" + sfx, range=list(yr),
        tickvals=yt, ticktext=[fmt(v) for v in yt], **axis_common,
    )
    for k in draw_order:
        xs, ys = series[k]
        fig.add_trace(go.Scatter(
            x=xs, y=ys, mode="lines", name=bloc_names[k],
            line=dict(color=bloc_colors[k], width=bloc_widths[k], shape=shape),
            xaxis="x" + sfx, yaxis="y" + sfx, hoverinfo="skip",
        ))
    cx = (left + right_full) / 2 / W
    annotations.append(dict(text=title, x=cx, y=1 - (top - 11) / H,
                            xref="paper", yref="paper", showarrow=False, xanchor="center",
                            yanchor="middle", font=dict(size=14, color="black", family=FONT)))
    annotations.append(dict(text="Year", x=cx, y=1 - (bottom + 26) / H,
                            xref="paper", yref="paper", showarrow=False, xanchor="center",
                            yanchor="middle", font=dict(size=13, color=INK, family=FONT)))
    annotations.append(dict(text="Standardized by bloc", x=(left - 24) / W, y=1 - (top + bottom) / 2 / H,
                            xref="paper", yref="paper", showarrow=False, textangle=-90,
                            xanchor="center", yanchor="middle", font=dict(size=14, color=INK, family=FONT)))

# Legend box in the first panel
leg_left, leg_right, leg_top, leg_bottom = 46, 145, 34, 70
shapes.append(dict(type="rect", xref="paper", yref="paper",
                   x0=leg_left / W, x1=leg_right / W, y0=1 - leg_bottom / H, y1=1 - leg_top / H,
                   line=dict(color=INK, width=0.8), fillcolor="white", layer="above"))
leg_rows = [43.5, 52.5, 61.5]
for k, yrow in enumerate(leg_rows):
    shapes.append(dict(type="line", xref="paper", yref="paper",
                       x0=50 / W, x1=89 / W, y0=1 - yrow / H, y1=1 - yrow / H,
                       line=dict(color=bloc_colors[k], width=bloc_widths[k]), layer="above"))
    annotations.append(dict(text=bloc_names[k], x=92 / W, y=1 - yrow / H, xref="paper", yref="paper",
                            showarrow=False, xanchor="left", yanchor="middle",
                            font=dict(size=9, color=INK, family=FONT)))

layout["annotations"] = annotations
layout["shapes"] = shapes
fig.update_layout(**layout)
fig.write_html("out.html")
